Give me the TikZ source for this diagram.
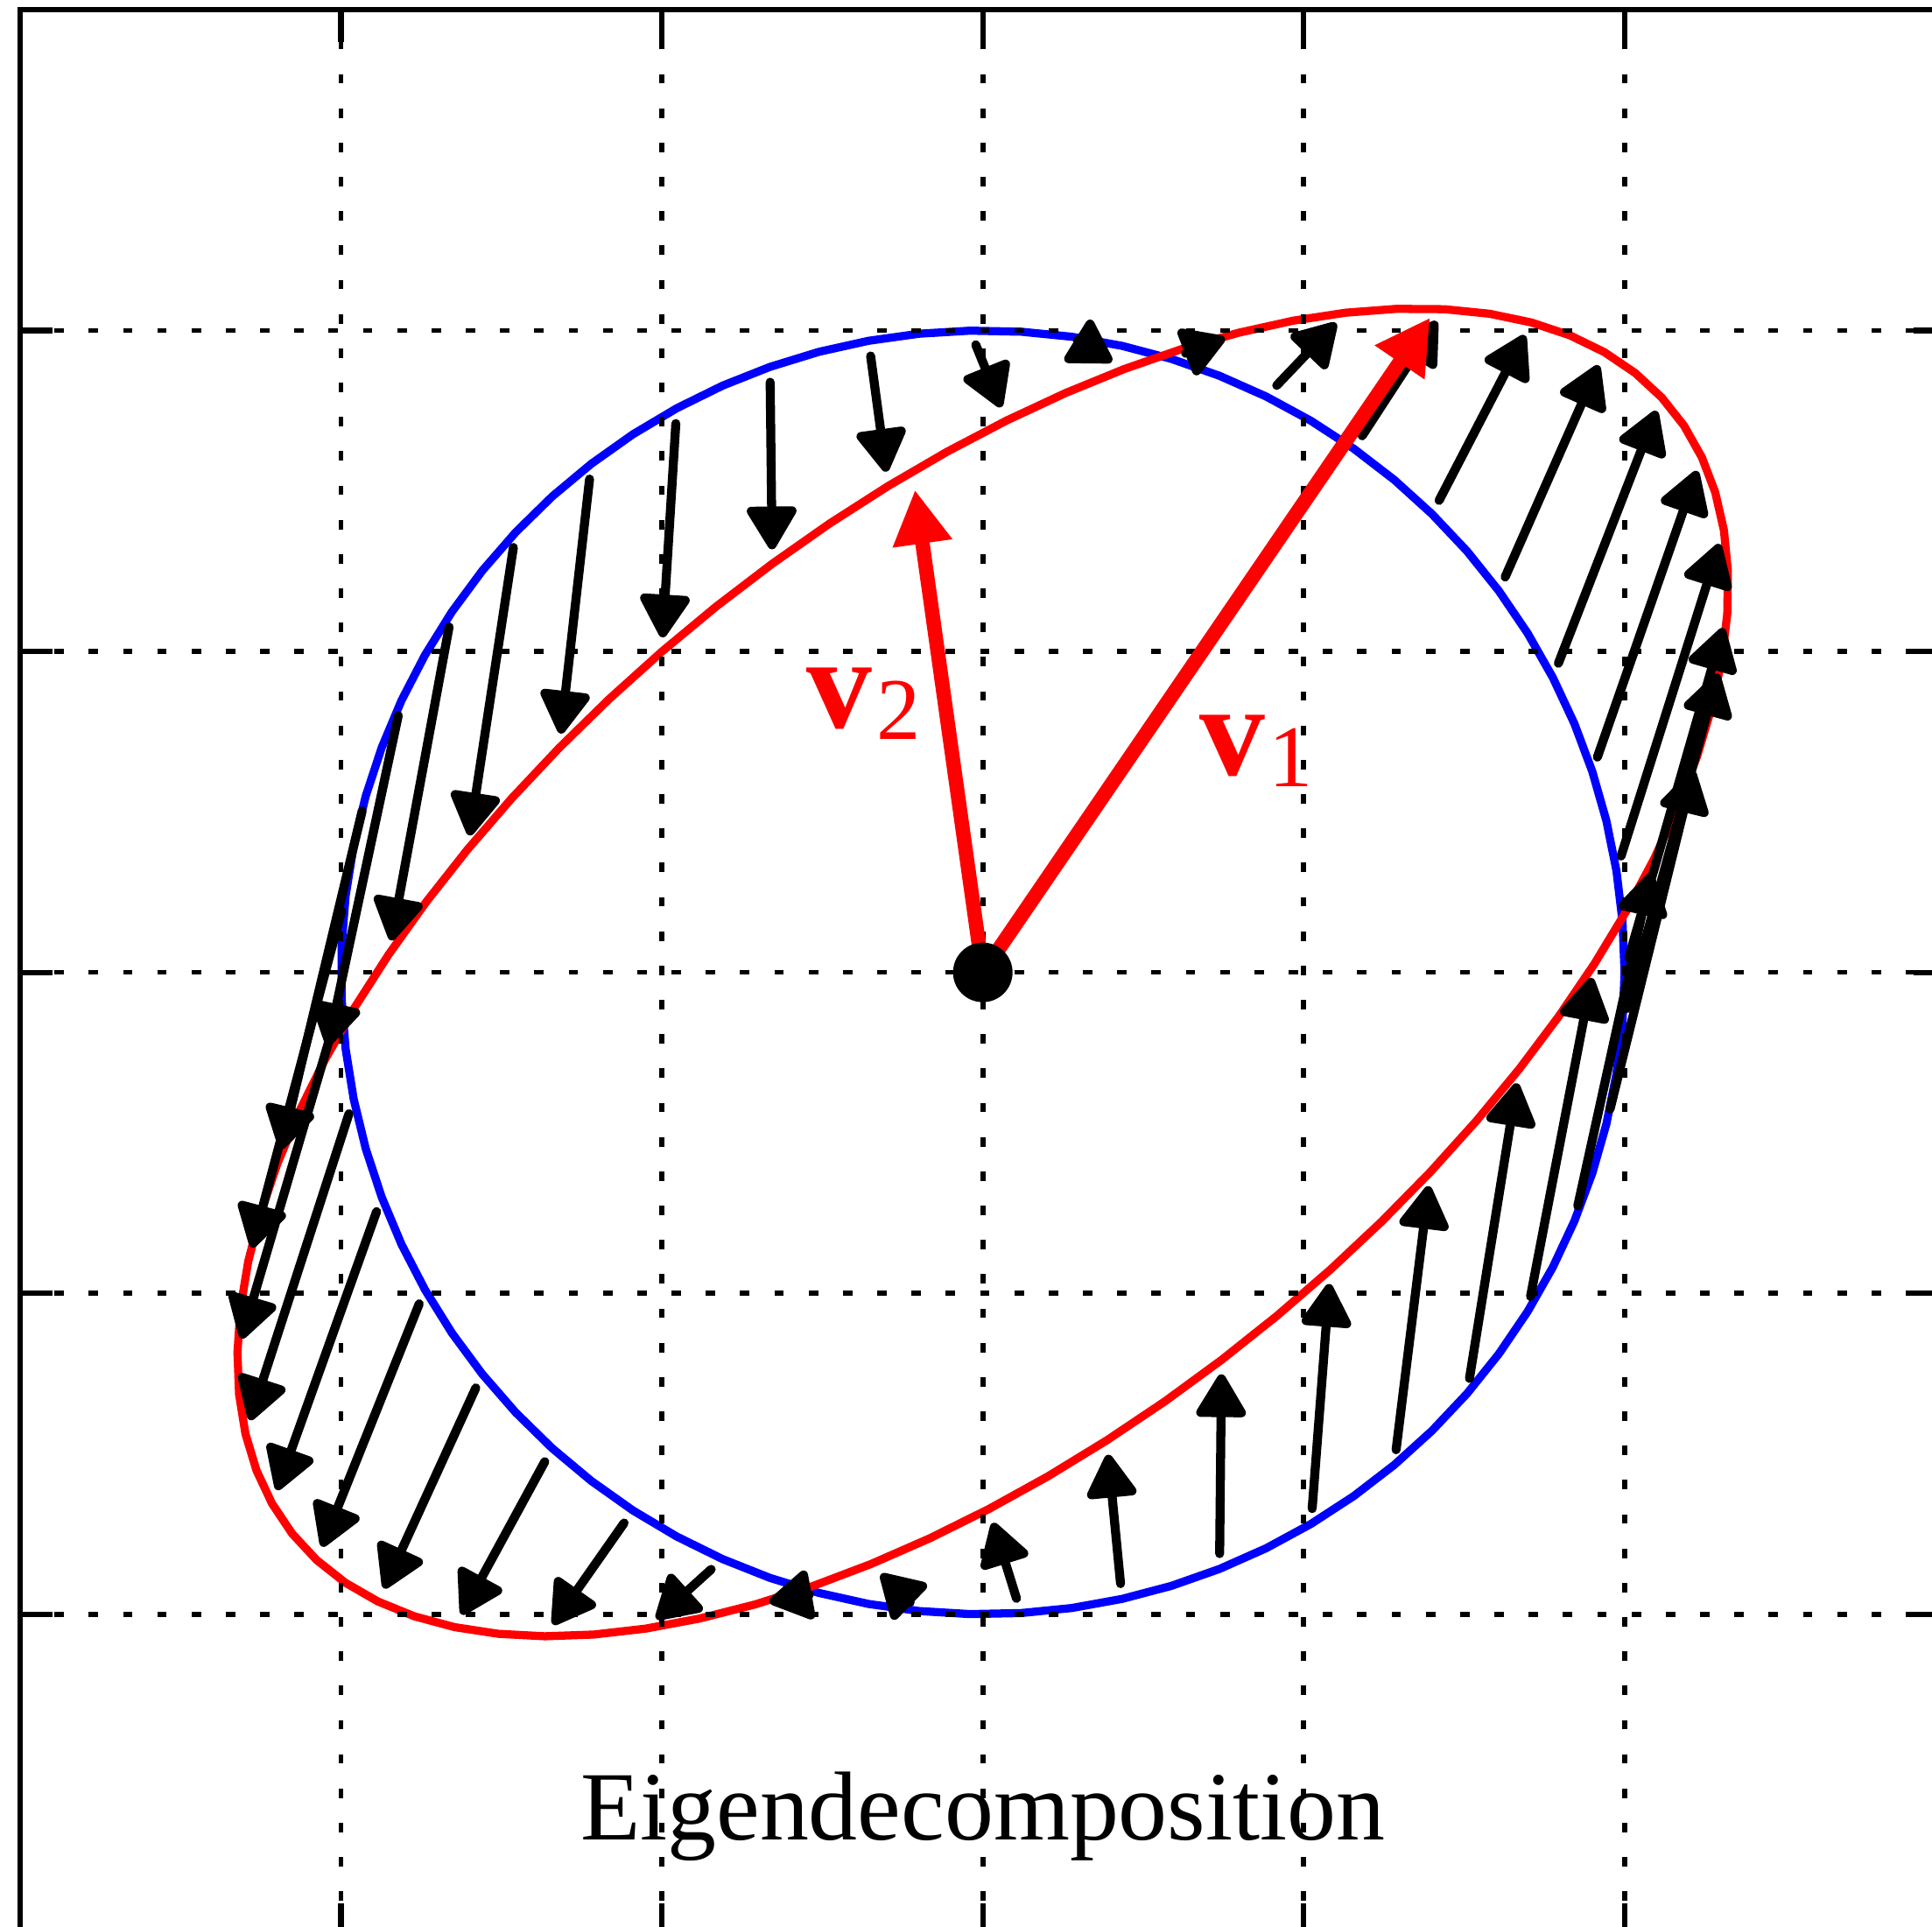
\documentclass[tikz,border=0pt]{standalone}
\usepackage{fontspec}
\setmainfont{Liberation Serif}
\usetikzlibrary{arrows.meta}

% entries of the 2x2 map
\newcommand{\Maa}{1.16}
\newcommand{\Mab}{0.06}
\newcommand{\Mba}{0.558}
\newcommand{\Mbb}{0.871}

\begin{document}
\begin{tikzpicture}[x=5cm, y=5cm,
    gridline/.style={line width=1.1pt, dash pattern=on 2.1pt off 5.5pt},
    axline/.style={line width=1.2pt},
    curve/.style={line width=1.8pt, line join=round},
    mapvec/.style={line width=2pt, line cap=round, shorten <=3.4pt, shorten >=3.2pt,
      -{Triangle[length=10.5pt, width=12pt, round]}},
    eigvec/.style={red, line width=3.2pt, -{Triangle[length=12pt, width=12.5pt]}},
    eiglbl/.style={red, inner sep=0pt, anchor=base west}]
  \clip (-1.5314,-1.4873) rectangle (1.4791,1.515);

  % unit circle and its image
  \draw[curve, blue] plot[domain=0:360, samples=80] ({cos(\x)}, {sin(\x)}) -- cycle;
  \draw[curve, red] plot[domain=0:360, samples=80]
    ({\Maa*cos(\x)+\Mab*sin(\x)}, {\Mba*cos(\x)+\Mbb*sin(\x)}) -- cycle;

  % grid and ticks
  \foreach \g in {-1,-0.5,0,0.5,1} {
    \draw[gridline] (\g,-1.5) -- (\g,1.5);
    \draw[gridline] (-1.5,\g) -- (1.5,\g);
    \draw[axline] (\g,1.5) -- (\g,1.45);
    \draw[axline] (\g,-1.5) -- (\g,-1.45);
    \draw[axline] (-1.5,\g) -- (-1.45,\g);
    \draw[axline] (1.5,\g) -- (1.45,\g);
  }

  % x -> Ax for every second sample
  \foreach \k in {0,...,39} {
    \pgfmathsetmacro{\ang}{9.113924*\k}
    \coordinate (p\k) at ({cos(\ang)}, {sin(\ang)});
    \coordinate (q\k) at ({\Maa*cos(\ang)+\Mab*sin(\ang)}, {\Mba*cos(\ang)+\Mbb*sin(\ang)});
    \draw[mapvec] (p\k) -- (q\k);
  }

  % eigenvectors
  \coordinate (O) at (0,0);
  \coordinate (v1tip) at (0.697,1.020);
  \coordinate (v2tip) at (-0.1057,0.7518);
  \draw[eigvec] (O) -- (v1tip);
  \draw[eigvec] (O) -- (v2tip);
  \fill (O) circle[radius=6.6pt];

  \node[eiglbl] (v1lab) at (0.336,0.3075)
    {\fontsize{29}{30}\selectfont\textbf{v}\kern1pt\raisebox{-2.5pt}{\fontsize{19.5}{20}\selectfont 1}};
  \node[eiglbl] (v2lab) at (-0.2763,0.3811)
    {\fontsize{29}{30}\selectfont\textbf{v}\kern1pt\raisebox{-2.5pt}{\fontsize{19.5}{20}\selectfont 2}};

  \node[anchor=base, inner sep=0pt] (title) at (0,-1.352)
    {\fontsize{21.7}{24}\selectfont Eigendecomposition};

  \draw[axline] (-1.5,-1.5) rectangle (1.5,1.5);
\end{tikzpicture}
\end{document}
